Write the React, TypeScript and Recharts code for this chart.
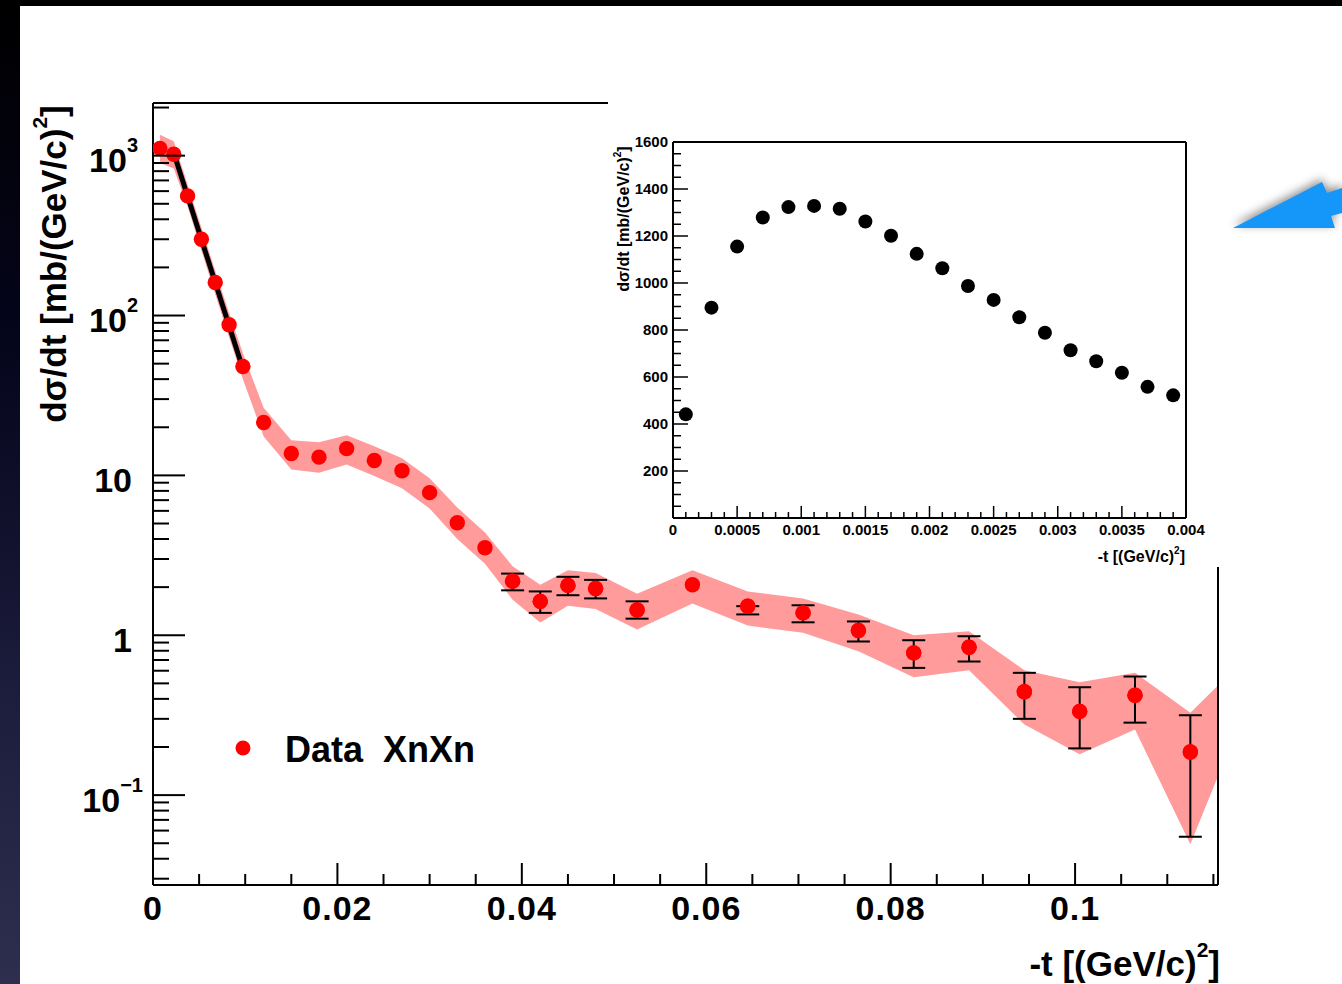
import React from 'react';
import {
  ComposedChart,
  ScatterChart,
  Scatter,
  Area,
  Line,
  XAxis,
  YAxis,
  ErrorBar,
  ReferenceLine,
  Legend,
  Label,
} from 'recharts';

const FONT = '"Liberation Sans", Arial, Helvetica, sans-serif';

// -t bin centres [(GeV/c)^2]
const tBins = [
  0.00075, 0.00225, 0.00375, 0.00525, 0.00675, 0.00825, 0.00975, 0.012, 0.015, 0.018, 0.021,
  0.024, 0.027, 0.03, 0.033, 0.036, 0.039, 0.042, 0.045, 0.048, 0.0525, 0.0585, 0.0645, 0.0705,
  0.0765, 0.0825, 0.0885, 0.0945, 0.1005, 0.1065, 0.1125,
];
// dsigma/dt [mb/(GeV/c)^2]
const dsdt = [
  1110, 1020, 560, 300, 161, 87.5, 48, 21.4, 13.7, 13.0, 14.7, 12.4, 10.7, 7.8, 5.06, 3.53, 2.18,
  1.63, 2.05, 1.96, 1.44, 2.07, 1.52, 1.38, 1.07, 0.776, 0.841, 0.443, 0.334, 0.421, 0.186,
];
// error bar ends (absolute), null = no bar drawn
const errLo = [
  null, null, null, null, null, null, null, null, null, null, null, null, null, null, null, null,
  1.91, 1.38, 1.78, 1.7, 1.27, null, 1.35, 1.205, 0.914, 0.625, 0.685, 0.3, 0.196, 0.284, 0.0549,
];
const errHi = [
  null, null, null, null, null, null, null, null, null, null, null, null, null, null, null, null,
  2.43, 1.88, 2.32, 2.22, 1.63, null, 1.52, 1.54, 1.22, 0.931, 0.986, 0.582, 0.473, 0.552, 0.316,
];
// systematic band, runs one bin past the axis end
const bandT = [...tBins, 0.1185];
const bandLo = [
  900, 830, 480, 255, 136, 73, 40, 17.5, 10.9, 10.4, 11.7, 9.9, 8.3, 6.2, 4.0, 2.8, 1.67, 1.2,
  1.53, 1.46, 1.085, 1.58, 1.15, 1.035, 0.794, 0.546, 0.603, 0.277, 0.18, 0.257, 0.0492, 0.35,
];
const bandHi = [
  1350, 1230, 660, 355, 190, 104, 58, 26.5, 16.6, 16.1, 17.8, 15.2, 12.8, 9.6, 6.3, 4.4, 2.7,
  2.07, 2.55, 2.45, 1.82, 2.55, 1.88, 1.7, 1.35, 1.0, 1.06, 0.604, 0.508, 0.582, 0.327, 0.72,
];
// exponential fit (end points)
const fitT = [0.00238, 0.00961];
const fitV = [985, 49.2];

// inset: low -t region
const insetT = [
  0.0001, 0.0003, 0.0005, 0.0007, 0.0009, 0.0011, 0.0013, 0.0015, 0.0017, 0.0019, 0.0021, 0.0023,
  0.0025, 0.0027, 0.0029, 0.0031, 0.0033, 0.0035, 0.0037, 0.0039,
];
const insetV = [
  441, 895, 1155, 1279, 1323, 1328, 1316, 1262, 1201, 1124, 1063, 987, 928, 854, 788, 714, 667,
  618, 558, 522,
];

// axes
const xDomain = [0, 0.1155];
const yDomain = [0.0274, 2135];
const xMajor = [0, 0.02, 0.04, 0.06, 0.08, 0.1];
const xMajorLabels = ['0', '0.02', '0.04', '0.06', '0.08', '0.1'];
const yMajor = [0.1, 1, 10, 100, 1000];
const yMajorLabels = [['10', '\u22121'], ['1', ''], ['10', ''], ['10', '2'], ['10', '3']];
const insetXMajor = [0, 0.0005, 0.001, 0.0015, 0.002, 0.0025, 0.003, 0.0035, 0.004];
const insetXLabels = ['0', '0.0005', '0.001', '0.0015', '0.002', '0.0025', '0.003', '0.0035', '0.004'];
const insetYLabels = ['200', '400', '600', '800', '1000', '1200', '1400', '1600'];

const xTicks = Array.from({ length: 24 }, (_, i) => (i * 5) / 1000);
const yTicks: number[] = [];
for (let k = -2; k <= 3; k++) {
  for (let m = 1; m <= 9; m++) {
    const v = m * Math.pow(10, k);
    if (v >= yDomain[0] && v <= yDomain[1]) yTicks.push(v);
  }
}
const insetXTicks = Array.from({ length: 41 }, (_, i) => i / 10000);
const insetYTicks = Array.from({ length: 33 }, (_, i) => i * 50);

const plainPts = tBins.map((t, i) => ({ t, v: dsdt[i] })).filter((_, i) => errLo[i] == null);
const errPts = tBins
  .map((t, i) => ({
    t,
    v: dsdt[i],
    err: [dsdt[i] - (errLo[i] ?? 0), (errHi[i] ?? 0) - dsdt[i]],
  }))
  .filter((_, i) => errLo[i] != null);
const band = bandT.map((t, i) => ({ t, range: [bandLo[i], bandHi[i]] }));
const fit = fitT.map((t, i) => ({ t, fit: fitV[i] }));
const insetPts = insetT.map((t, i) => ({ t, v: insetV[i] }));

const near = (a: number, b: number) => Math.abs(a - b) < 1e-9 * Math.max(1, Math.abs(b));
const isDecade = (v: number) => Math.abs(Math.log10(v) - Math.round(Math.log10(v))) < 1e-6;

const MainXTick = (p: any) => {
  const { x, y, payload } = p;
  const idx = xMajor.findIndex((m) => Math.abs(m - payload.value) < 1e-9);
  const len = idx >= 0 ? 22 : 11;
  return (
    <g>
      <line x1={x} x2={x} y1={y} y2={y - len} stroke="#000" strokeWidth={2} />
      {idx >= 0 && (
        <text x={x} y={y + 35} textAnchor="middle" fontFamily={FONT} fontWeight="bold" fontSize={34} letterSpacing={1} fill="#000">
          {xMajorLabels[idx]}
        </text>
      )}
    </g>
  );
};

const MainYTick = (p: any) => {
  const { x, y, payload } = p;
  const v = payload.value;
  const major = isDecade(v);
  const idx = yMajor.findIndex((m) => near(m, v));
  const lab = idx >= 0 ? yMajorLabels[idx] : null;
  return (
    <g>
      <line x1={x} x2={x + (major ? 32 : 16)} y1={y} y2={y} stroke="#000" strokeWidth={2} />
      {lab && (
        <text
          x={lab[1] ? x - (lab[1].length > 1 ? 10 : 15) : x - 21}
          y={y + 16.5}
          textAnchor="end"
          fontFamily={FONT}
          fontWeight="bold"
          fontSize={34}
          fill="#000"
        >
          {lab[0]}
          {lab[1] && (
            <tspan dy={-20} fontSize={20}>
              {lab[1]}
            </tspan>
          )}
        </text>
      )}
    </g>
  );
};

const InsetXTick = (p: any) => {
  const { x, y, payload } = p;
  const idx = insetXMajor.findIndex((m) => Math.abs(m - payload.value) < 1e-9);
  return (
    <g>
      <line x1={x} x2={x} y1={y} y2={y - (idx >= 0 ? 12 : 6)} stroke="#000" strokeWidth={1.5} />
      {idx >= 0 && (
        <text x={x} y={y + 17} textAnchor="middle" fontFamily={FONT} fontWeight="bold" fontSize={15} fill="#000">
          {insetXLabels[idx]}
        </text>
      )}
    </g>
  );
};

const InsetYTick = (p: any) => {
  const { x, y, payload } = p;
  const v = payload.value;
  const major = v % 200 === 0;
  const lab = major && v > 0 ? insetYLabels[v / 200 - 1] : null;
  return (
    <g>
      <line x1={x} x2={x + (major ? 15 : 8)} y1={y} y2={y} stroke="#000" strokeWidth={1.5} />
      {lab && (
        <text x={x - 5} y={y + 5} textAnchor="end" fontFamily={FONT} fontWeight="bold" fontSize={15} fill="#000">
          {lab}
        </text>
      )}
    </g>
  );
};

const redDot = (p: any) => <circle cx={p.cx} cy={p.cy} r={7.7} fill="#ff0000" />;
const blackDot = (p: any) => <circle cx={p.cx} cy={p.cy} r={7} fill="#000" />;

const mainXTitle = () => (
  <text x={1220} y={976} textAnchor="end" fontFamily={FONT} fontWeight="bold" fontSize={35} fill="#000">
    -t [(GeV/c)
    <tspan dy={-19} fontSize={21}>2</tspan>
    <tspan dy={19}>]</tspan>
  </text>
);

const mainYTitle = () => (
  <text
    x={66}
    y={264}
    transform="rotate(-90, 66, 264)"
    textAnchor="middle"
    fontFamily={FONT}
    fontWeight="bold"
    fontSize={35}
    fill="#000"
  >
    dσ/dt [mb/(GeV/c)
    <tspan dy={-19} fontSize={21}>2</tspan>
    <tspan dy={19}>]</tspan>
  </text>
);

const insetXTitle = () => (
  <text x={577} y={502} textAnchor="end" fontFamily={FONT} fontWeight="bold" fontSize={16} fill="#000">
    -t [(GeV/c)
    <tspan dy={-8} fontSize={10}>2</tspan>
    <tspan dy={8}>]</tspan>
  </text>
);

const insetYTitle = () => (
  <text
    x={21}
    y={159}
    transform="rotate(-90, 21, 159)"
    textAnchor="middle"
    fontFamily={FONT}
    fontWeight="bold"
    fontSize={16}
    fill="#000"
  >
    dσ/dt [mb/(GeV/c)
    <tspan dy={-8} fontSize={10}>2</tspan>
    <tspan dy={8}>]</tspan>
  </text>
);

const legendContent = (props: any) => {
  const items = (props.payload || []).filter((e: any) => e.type !== 'none' && e.value === 'Data  XnXn');
  return (
    <svg width={320} height={50}>
      {items.slice(0, 1).map((e: any, i: number) => (
        <g key={i}>
          <circle cx={23} cy={23} r={7.5} fill="#ff0000" />
          <text x={65} y={37} fontFamily={FONT} fontWeight="bold" fontSize={36} fill="#000" style={{ whiteSpace: 'pre' }}>
            {e.value}
          </text>
        </g>
      ))}
    </svg>
  );
};

export default function App() {
  return (
    <div
      style={{
        position: 'absolute',
        left: 0,
        top: 0,
        width: 1342,
        height: 984,
        background: '#fff',
        overflow: 'hidden',
      }}
    >
      <ComposedChart width={1342} height={984} margin={{ top: 103, right: 124, bottom: 98, left: 152 }}>
        <XAxis
          type="number"
          dataKey="t"
          domain={xDomain}
          allowDataOverflow
          ticks={xTicks}
          interval={0}
          height={1}
          tickSize={0}
          tickMargin={0}
          tickLine={false}
          axisLine={{ stroke: '#000', strokeWidth: 2 }}
          tick={MainXTick}
        >
          <Label content={mainXTitle} />
        </XAxis>
        <YAxis
          type="number"
          scale="log"
          domain={yDomain}
          allowDataOverflow
          ticks={yTicks}
          interval={0}
          width={1}
          tickSize={0}
          tickMargin={0}
          tickLine={false}
          axisLine={{ stroke: '#000', strokeWidth: 2 }}
          tick={MainYTick}
        >
          <Label content={mainYTitle} />
        </YAxis>
        <ReferenceLine y={yDomain[1]} stroke="#000" strokeWidth={2} />
        <ReferenceLine x={xDomain[1]} stroke="#000" strokeWidth={2} />
        <Area
          data={band}
          dataKey="range"
          type="linear"
          fill="#ff9b9b"
          fillOpacity={1}
          stroke="none"
          legendType="none"
          isAnimationActive={false}
        />
        <Scatter name="Data  XnXn" data={plainPts} dataKey="v" fill="#ff0000" shape={redDot} isAnimationActive={false} />
        <Scatter name="err" data={errPts} dataKey="v" fill="#ff0000" shape={redDot} legendType="none" isAnimationActive={false}>
          <ErrorBar dataKey="err" direction="y" width={11.5} stroke="#000" strokeWidth={2} isAnimationActive={false} />
        </Scatter>
        {/* markers again, on top of the error bars */}
        <Scatter name="errMarkers" data={errPts} dataKey="v" fill="#ff0000" shape={redDot} legendType="none" isAnimationActive={false} />
        <Line
          data={fit}
          dataKey="fit"
          type="linear"
          stroke="#000"
          strokeWidth={5}
          dot={false}
          legendType="none"
          isAnimationActive={false}
        />
        <Legend
          layout="horizontal"
          verticalAlign="middle"
          align="center"
          wrapperStyle={{ left: 220, top: 725, width: 320, height: 50 }}
          content={legendContent}
        />
      </ComposedChart>

      <div style={{ position: 'absolute', left: 608, top: 60, width: 630, height: 507, background: '#fff' }}>
        <ScatterChart width={630} height={507} margin={{ top: 82, right: 52, bottom: 48, left: 64 }}>
          <XAxis
            type="number"
            dataKey="t"
            domain={[0, 0.004]}
            ticks={insetXTicks}
            interval={0}
            height={1}
            tickSize={0}
            tickMargin={0}
            tickLine={false}
            axisLine={{ stroke: '#000', strokeWidth: 2 }}
            tick={InsetXTick}
          >
            <Label content={insetXTitle} />
          </XAxis>
          <YAxis
            type="number"
            dataKey="v"
            domain={[0, 1600]}
            ticks={insetYTicks}
            interval={0}
            width={1}
            tickSize={0}
            tickMargin={0}
            tickLine={false}
            axisLine={{ stroke: '#000', strokeWidth: 2 }}
            tick={InsetYTick}
          >
            <Label content={insetYTitle} />
          </YAxis>
          <ReferenceLine x={0.004} stroke="#000" strokeWidth={2} />
          <ReferenceLine y={1600} stroke="#000" strokeWidth={2} />
          <Scatter data={insetPts} dataKey="v" fill="#000" shape={blackDot} isAnimationActive={false} />
        </ScatterChart>
      </div>

      {/* slide frame */}
      <div style={{ position: 'absolute', left: 0, top: 0, width: 1342, height: 6, background: '#000' }} />
      <div
        style={{
          position: 'absolute',
          left: 0,
          top: 0,
          width: 20,
          height: 984,
          background: 'linear-gradient(#000 0%, #05051c 35%, #1c1c3c 70%, #2e2e4e 100%)',
        }}
      />
      <svg
        width={142}
        height={100}
        style={{ position: 'absolute', left: 1200, top: 150, filter: 'drop-shadow(0 -3px 5px rgba(0,0,0,0.45))' }}
      >
        <polygon points="33,78 122,32 127,43 142,38 142,63 131,66 135,78" fill="#1597fa" />
      </svg>
    </div>
  );
}
